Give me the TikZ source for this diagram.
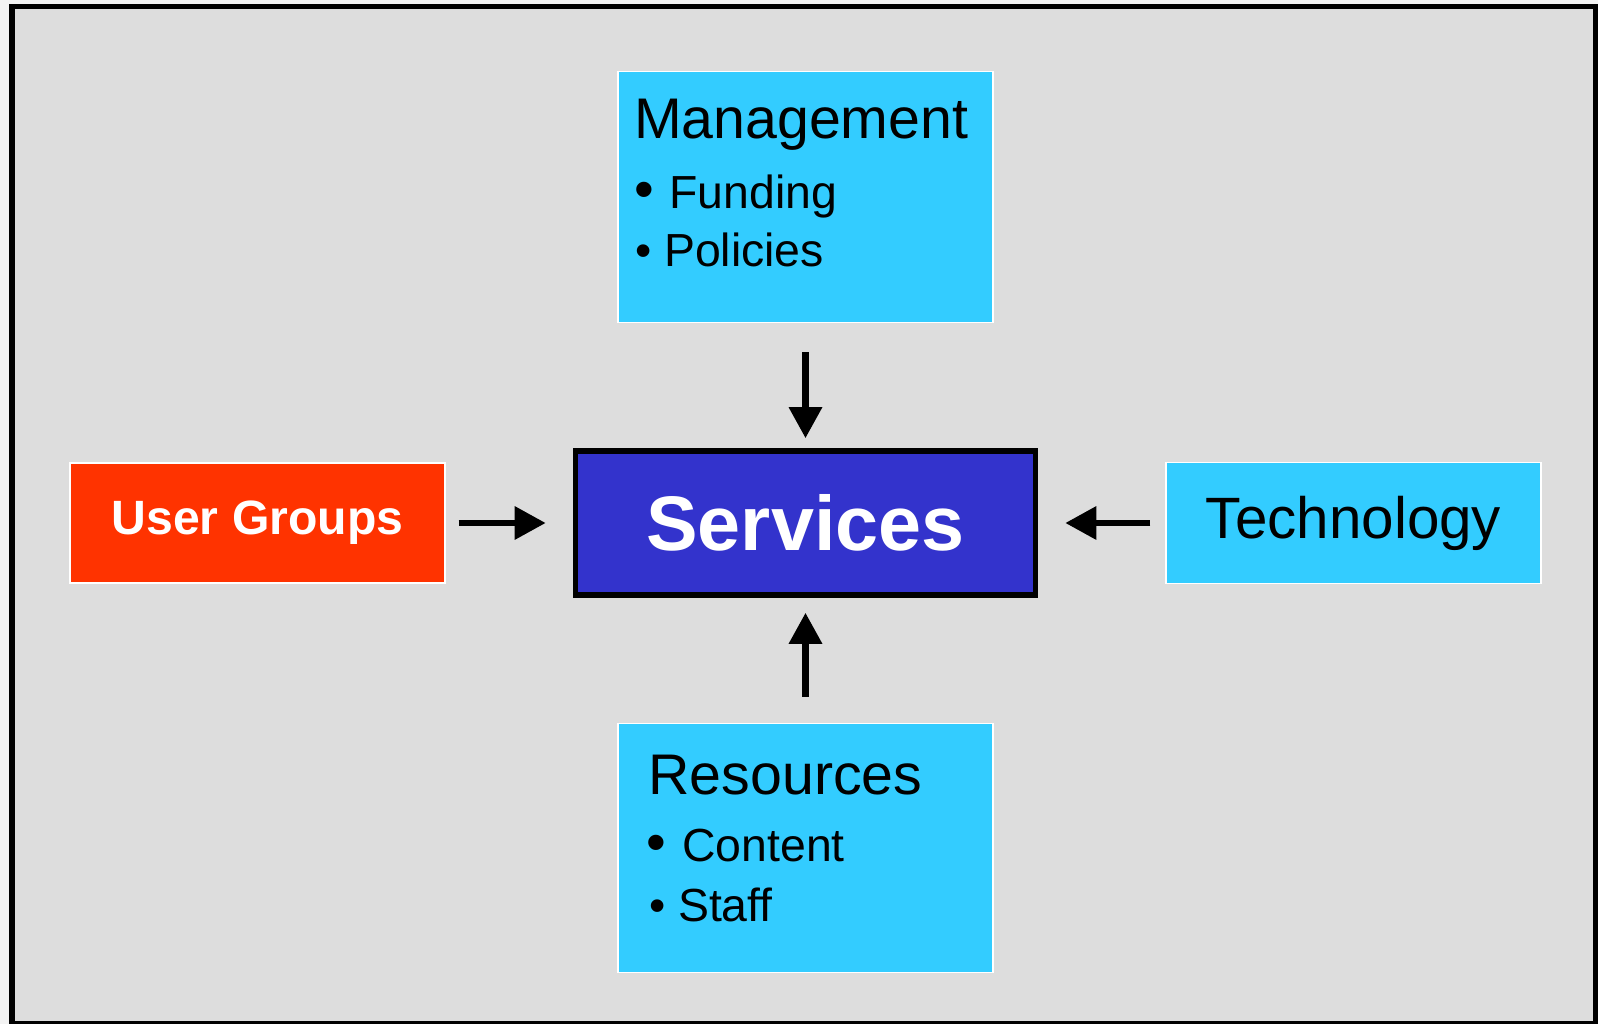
\documentclass[tikz,border=0pt]{standalone}
\usepackage{fontspec}
\setmainfont{Liberation Sans}
\usetikzlibrary{arrows.meta,matrix}

\definecolor{outside}{RGB}{243,243,243}
\definecolor{panel}{RGB}{221,221,221}
\definecolor{skyblue}{RGB}{51,204,255}
\definecolor{servblue}{RGB}{51,51,204}
\definecolor{usered}{RGB}{255,51,0}

\begin{document}
\begin{tikzpicture}[
  box/.style={fill=skyblue, draw=white, line width=0.4pt, minimum width=3.75cm, inner sep=0pt, font=\fontsize{16.6}{19}\selectfont},
  core/.style={fill=servblue, draw=black, line width=1.6pt, minimum width=4.6cm, minimum height=1.44cm, text=white, font=\bfseries\fontsize{22}{26}\selectfont},
  head/.style={anchor=base west, inner sep=0pt, font=\fontsize{16.3}{19}\selectfont},
  item/.style={anchor=base west, inner sep=0pt, font=\fontsize{13.2}{16}\selectfont},
  link/.style={line width=1.8pt, -{Triangle[length=0.31cm,width=0.32cm]}},
]
\fill[outside] (0,0) rectangle (15.98,10.24);
\useasboundingbox (0,0) rectangle (15.98,10.24);
\draw[fill=panel, line width=1.6pt] (0.12,10.175) rectangle (15.96,0);

\matrix (m)[matrix of nodes, column sep=1.27cm, row sep=1.25cm, inner sep=0pt, nodes={anchor=center}] at (8.055,5.02) {
 & |[box, minimum height=2.51cm]| {} & \\
|[box, fill=usered, text=white, minimum height=1.2cm, font=\bfseries\fontsize{13.7}{16}\selectfont]| User Groups & |[core]| Services & |[box, minimum height=1.21cm]| Technology \\
 & |[box, minimum height=2.49cm]| {} & \\
};

% box texts
\node[head] (mgmt) at ([shift={(0.16,-0.68)}]m-1-2.north west) {Management};
\node[item] (fund) at ([shift={(0.16,-1.38)}]m-1-2.north west) {{\fontsize{16}{19}\selectfont\textbullet\ }Funding};
\node[item] (pol) at ([shift={(0.17,-1.96)}]m-1-2.north west) {\textbullet\ Policies};

\node[head] (res) at ([shift={(0.305,-0.72)}]m-3-2.north west) {Resources};
\node[item] (cont) at ([shift={(0.29,-1.39)}]m-3-2.north west) {{\fontsize{16}{19}\selectfont\textbullet\ }Content};
\node[item] (staff) at ([shift={(0.31,-1.99)}]m-3-2.north west) {\textbullet\ Staff};

\draw[link, shorten <=0.29cm, shorten >=0.10cm] (m-1-2)--(m-2-2);
\draw[link, shorten <=0.26cm, shorten >=0.15cm] (m-3-2)--(m-2-2);
\draw[link, shorten <=0.13cm, shorten >=0.27cm] (m-2-1)--(m-2-2);
\draw[link, shorten <=0.15cm, shorten >=0.27cm] (m-2-3)--(m-2-2);

\end{tikzpicture}
\end{document}
